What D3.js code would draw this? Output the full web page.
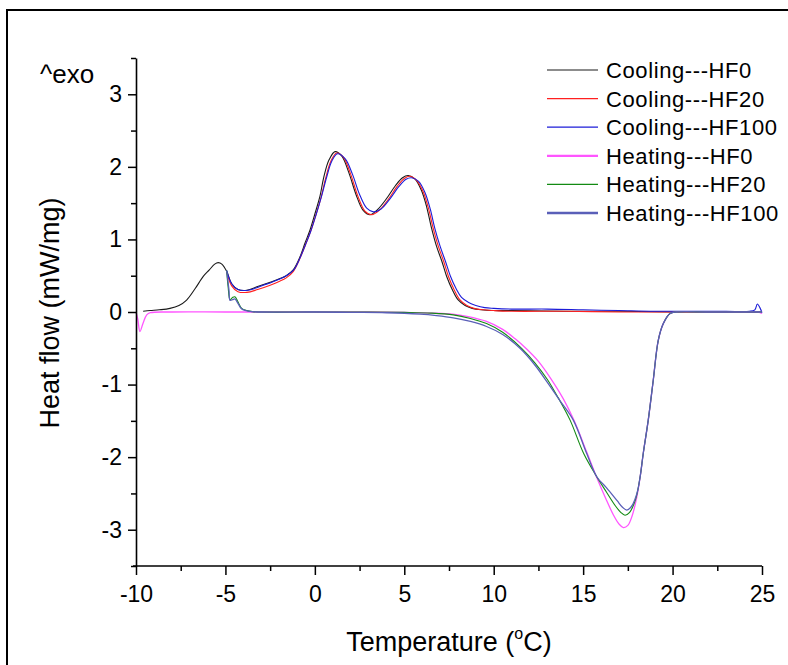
<!DOCTYPE html>
<html>
<head>
<meta charset="utf-8">
<script src="https://cdn.jsdelivr.net/npm/d3@7"></script>
<style>
  html, body { margin: 0; padding: 0; background: #fff; }
  svg { display: block; }
  text { font-family: Arial, "Liberation Sans", sans-serif; fill: #000; }
</style>
</head>
<body>
<svg id="chart" width="788" height="665"></svg>
<script>
// ---------- DATA ----------
const seriesNames = ["Cooling---HF0", "Cooling---HF20", "Cooling---HF100", "Heating---HF0", "Heating---HF20", "Heating---HF100"];
const xTickValues = [-10, -5, 0, 5, 10, 15, 20, 25];
const yTickValues = [-3, -2, -1, 0, 1, 2, 3];

const coolHF0_T = [25, 22, 20, 17, 14, 11, 10, 9.3, 8.8, 8.4, 8.0, 7.7, 7.37, 7.1, 6.81, 6.5, 6.25, 5.95, 5.6, 5.22, 4.9, 4.5, 4.0, 3.5, 3.08, 2.7, 2.3, 1.9, 1.5, 1.13, 0.8, 0.5, 0.29, 0, -0.27, -0.55, -0.83, -1.21, -1.6, -1.95, -2.5, -3.2, -3.8, -4.3, -4.65, -4.93, -5.2, -5.4, -5.6, -5.9, -6.24, -6.7, -7.17, -7.6, -8.1, -8.7, -9.2, -9.6];
const coolHF0_Q = [0, 0, 0, 0.01, 0.01, 0.02, 0.02, 0.03, 0.05, 0.09, 0.17, 0.3, 0.49, 0.7, 0.9, 1.18, 1.45, 1.68, 1.83, 1.88, 1.85, 1.74, 1.56, 1.41, 1.34, 1.4, 1.62, 1.92, 2.15, 2.21, 2.1, 1.86, 1.6, 1.35, 1.13, 0.95, 0.76, 0.58, 0.5, 0.46, 0.41, 0.35, 0.30, 0.31, 0.39, 0.56, 0.66, 0.68, 0.66, 0.58, 0.49, 0.32, 0.165, 0.09, 0.05, 0.03, 0.02, 0.01];

const coolHF20_T = [25, 22, 20, 17, 14, 11, 10, 9.4, 8.9, 8.5, 8.1, 7.8, 7.47, 7.2, 6.91, 6.6, 6.35, 6.05, 5.7, 5.32, 5.0, 4.6, 4.1, 3.6, 3.18, 2.8, 2.4, 2.0, 1.6, 1.22, 0.9, 0.6, 0.35, 0.05, -0.25, -0.55, -0.85, -1.2, -1.6, -2.0, -2.5, -3.2, -3.8, -4.3, -4.65, -4.93];
const coolHF20_Q = [0, 0, 0, 0, 0.01, 0.01, 0.02, 0.03, 0.05, 0.09, 0.17, 0.3, 0.49, 0.7, 0.9, 1.17, 1.43, 1.66, 1.81, 1.87, 1.84, 1.73, 1.55, 1.4, 1.34, 1.39, 1.6, 1.9, 2.13, 2.19, 2.08, 1.84, 1.58, 1.33, 1.1, 0.91, 0.73, 0.56, 0.47, 0.42, 0.37, 0.31, 0.27, 0.28, 0.36, 0.55];

const coolHF100_T = [25, 24.9, 24.74, 24.6, 24.3, 23, 21, 19, 17, 15, 13, 11, 10, 9.5, 9.0, 8.6, 8.2, 7.9, 7.57, 7.3, 7.01, 6.7, 6.45, 6.15, 5.8, 5.41, 5.1, 4.7, 4.2, 3.7, 3.27, 2.9, 2.5, 2.1, 1.7, 1.26, 0.95, 0.65, 0.38, 0.08, -0.22, -0.52, -0.82, -1.18, -1.6, -2.0, -2.5, -2.88, -3.3, -3.72, -4.3, -4.65, -4.93];
const coolHF100_Q = [-0.01, 0.05, 0.11, 0.03, 0.01, 0.01, 0.01, 0.01, 0.02, 0.03, 0.04, 0.04, 0.05, 0.06, 0.09, 0.13, 0.2, 0.32, 0.5, 0.7, 0.9, 1.16, 1.42, 1.65, 1.8, 1.85, 1.83, 1.73, 1.56, 1.42, 1.38, 1.43, 1.62, 1.9, 2.11, 2.18, 2.08, 1.85, 1.6, 1.35, 1.12, 0.93, 0.75, 0.58, 0.5, 0.45, 0.40, 0.37, 0.33, 0.30, 0.31, 0.39, 0.57];

const heatHF0_T = [-10, -9.9, -9.78, -9.6, -9.4, -9.2, -8, -5, 0, 3, 5, 6.5, 7.7, 8.5, 9.6, 10.5, 11.2, 11.84, 12.5, 13.2, 13.9, 14.5, 15.2, 15.76, 16.3, 16.7, 17.0, 17.25, 17.5, 17.75, 18.0, 18.2, 18.36, 18.64, 18.92, 19.2, 19.48, 19.86, 20.23, 22, 24, 24.8, 25];
const heatHF0_Q = [0, -0.1, -0.27, -0.15, -0.04, -0.01, 0, 0, 0, 0, -0.005, -0.015, -0.03, -0.06, -0.13, -0.24, -0.37, -0.51, -0.68, -0.92, -1.2, -1.5, -1.93, -2.28, -2.59, -2.8, -2.92, -2.97, -2.94, -2.8, -2.55, -2.25, -1.95, -1.49, -0.94, -0.39, -0.16, -0.02, 0, 0, 0, 0, -0.02];

const heatHF20_T = [-4.93, -4.85, -4.74, -4.6, -4.47, -4.3, -4.09, -3.8, -3.5, -3, 0, 3, 5, 6.5, 7.74, 8.7, 9.6, 10.5, 11.56, 12.3, 13.0, 13.6, 14.27, 15.03, 15.76, 16.3, 16.8, 17.1, 17.34, 17.6, 17.85, 18.0, 18.2, 18.36, 18.64, 18.92, 19.2, 19.48, 19.86, 20.23, 22, 24, 25];
const heatHF20_Q = [0.57, 0.35, 0.17, 0.2, 0.21, 0.14, 0.05, 0.02, 0.005, 0, 0, 0, -0.005, -0.015, -0.04, -0.09, -0.16, -0.28, -0.5, -0.7, -0.93, -1.18, -1.49, -1.95, -2.27, -2.48, -2.67, -2.76, -2.80, -2.76, -2.64, -2.52, -2.25, -1.95, -1.49, -0.94, -0.39, -0.16, -0.02, 0, 0, 0, 0];

const heatHF100_T = [-4.93, -4.8, -4.74, -4.6, -4.47, -4.3, -4.09, -3.8, -3.5, -3, 0, 2, 4, 5.88, 6.8, 7.74, 8.7, 9.6, 10.5, 11.47, 12.3, 13.0, 13.7, 14.45, 15.2, 15.76, 16.3, 16.9, 17.2, 17.44, 17.7, 17.9, 18.05, 18.2, 18.36, 18.64, 18.92, 19.2, 19.48, 19.86, 20.23, 22, 24, 25];
const heatHF100_Q = [0.57, 0.3, 0.16, 0.17, 0.18, 0.12, 0.04, 0.015, 0.005, 0, 0, -0.005, -0.01, -0.03, -0.05, -0.08, -0.13, -0.2, -0.31, -0.5, -0.73, -0.97, -1.22, -1.49, -1.95, -2.27, -2.42, -2.6, -2.69, -2.73, -2.68, -2.58, -2.46, -2.25, -1.95, -1.49, -0.94, -0.39, -0.16, -0.02, 0, 0, 0, 0];

// ---------- BUILD ----------
const zip = (t, q) => t.map((v, i) => [v, q[i]]);
const series = [
  { name: seriesNames[0], pts: zip(coolHF0_T, coolHF0_Q), color: "#1a1a1a", w: 1.1, lw: 1.2 },
  { name: seriesNames[1], pts: zip(coolHF20_T, coolHF20_Q), color: "#ff2020", w: 1.1, lw: 1.4 },
  { name: seriesNames[2], pts: zip(coolHF100_T, coolHF100_Q), color: "#1c1cd8", w: 1.1, lw: 1.2 },
  { name: seriesNames[3], pts: zip(heatHF0_T, heatHF0_Q), color: "#ff55ff", w: 1.3, lw: 2.2 },
  { name: seriesNames[4], pts: zip(heatHF20_T, heatHF20_Q), color: "#138a13", w: 1.1, lw: 1.3 },
  { name: seriesNames[5], pts: zip(heatHF100_T, heatHF100_Q), color: "#5a5fb8", w: 1.3, lw: 2.4 }
];

const svg = d3.select("#chart");

// outer frame
svg.append("rect").attr("x", 7).attr("y", 10).attr("width", 800).attr("height", 700)
  .attr("fill", "none").attr("stroke", "#000").attr("stroke-width", 2);

const x = d3.scaleLinear().domain([-10, 25]).range([136, 762]);
const y = d3.scaleLinear().domain([-3.5, 3.5]).range([566, 58]);

const plot = svg.append("g");
const line = d3.line().x(d => x(d[0])).y(d => y(d[1])).curve(d3.curveCatmullRom.alpha(0.5));

series.forEach(s => {
  plot.append("path").datum(s.pts).attr("d", line)
    .attr("fill", "none").attr("stroke", s.color).attr("stroke-width", s.w)
    .attr("stroke-linejoin", "round");
});

// axes
const fmt = d => String(d);
const xMinor = d3.range(-10, 25.01, 2.5).filter(v => !xTickValues.includes(v));
const yMinor = d3.range(-3.5, 3.51, 0.5).filter(v => !yTickValues.includes(v));

const xAxis = svg.append("g").attr("transform", `translate(0,${y(-3.5)})`)
  .call(d3.axisBottom(x).tickValues(xTickValues).tickFormat(fmt).tickSize(9).tickPadding(6).tickSizeOuter(0));
svg.append("g").attr("transform", `translate(0,${y(-3.5)})`)
  .call(d3.axisBottom(x).tickValues(xMinor).tickSize(5).tickFormat("").tickSizeOuter(0))
  .select(".domain").remove();

const yAxis = svg.append("g").attr("transform", `translate(${x(-10)},0)`)
  .call(d3.axisLeft(y).tickValues(yTickValues).tickFormat(fmt).tickSize(8).tickPadding(6).tickSizeOuter(0));
svg.append("g").attr("transform", `translate(${x(-10)},0)`)
  .call(d3.axisLeft(y).tickValues(yMinor).tickSize(5).tickFormat("").tickSizeOuter(0))
  .select(".domain").remove();

svg.selectAll(".domain").attr("stroke", "#000").attr("stroke-width", 1.6);
svg.selectAll(".tick line").attr("stroke", "#000").attr("stroke-width", 1.5);
svg.selectAll(".tick text").style("font-family", "Arial, 'Liberation Sans', sans-serif")
  .style("font-size", "23px").attr("fill", "#000");
xAxis.selectAll(".tick text").attr("dy", "0.92em");
xAxis.select(".domain").attr("d", `M${x(-10) - 3},0H${x(25)}`);

// axis titles
const xt = svg.append("text").attr("x", 449).attr("y", 651).attr("text-anchor", "middle")
  .style("font-size", "27px");
xt.append("tspan").text("Temperature (");
xt.append("tspan").text("o").style("font-size", "16px").attr("dy", -12);
xt.append("tspan").text("C)").attr("dy", 12);

svg.append("text").attr("transform", "translate(59,313) rotate(-90)").attr("text-anchor", "middle")
  .style("font-size", "27px").text("Heat flow (mW/mg)");

svg.append("text").attr("x", 40).attr("y", 83).style("font-size", "26px").text("^exo");

// legend
const lg = svg.append("g");
series.forEach((s, i) => {
  const yy = 70 + i * 28.6;
  lg.append("line").attr("x1", 547).attr("x2", 598).attr("y1", yy).attr("y2", yy)
    .attr("stroke", s.color).attr("stroke-width", s.lw);
  lg.append("text").attr("x", 606).attr("y", yy + 8).style("font-size", "22px")
    .style("letter-spacing", "0.6px").text(s.name);
});
</script>
</body>
</html>
